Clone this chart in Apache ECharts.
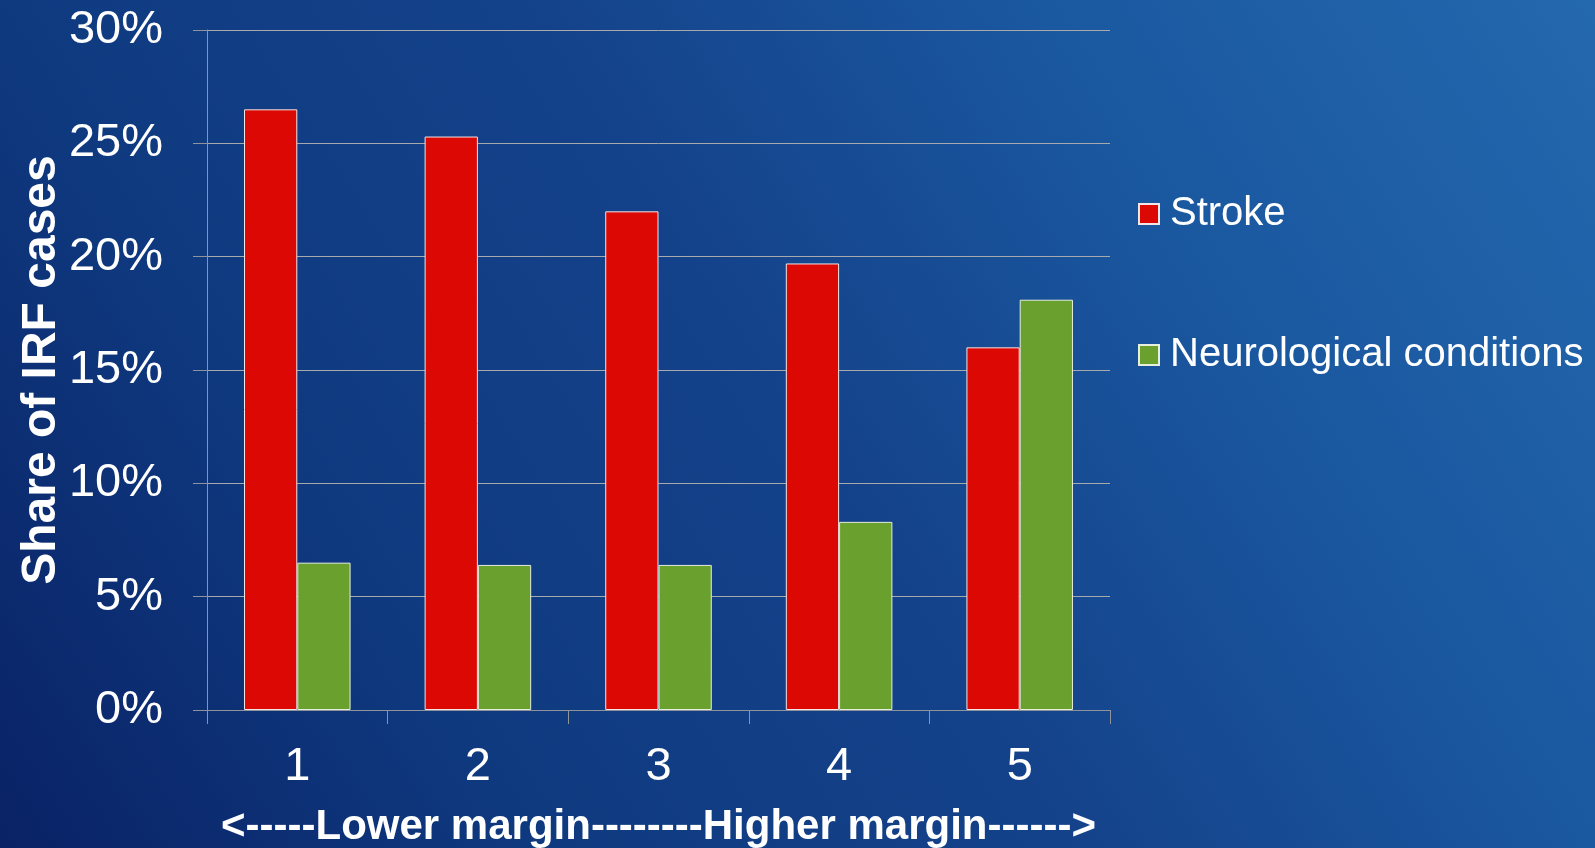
<!DOCTYPE html>
<html>
<head>
<meta charset="utf-8">
<script src="https://cdn.jsdelivr.net/npm/echarts@6/dist/echarts.min.js"></script>
<style>
  html, body { margin: 0; padding: 0; }
  #chart {
    width: 1595px;
    height: 848px;
    background: linear-gradient(57deg, #0a2266 0%, #0f3a80 26%, #14428a 50%, #1a58a0 74%, #2468ae 100%);
  }
</style>
</head>
<body>
<div id="chart"></div>
<script>
// Datos
const categories = ['1', '2', '3', '4', '5'];
const strokeShare = [26.5, 25.3, 22.0, 19.7, 16.0];
const neuroShare = [6.5, 6.4, 6.4, 8.3, 18.1];
const seriesNames = ['Stroke', 'Neurological conditions'];

const font = 'Arial, "Liberation Sans", sans-serif';
const gridColor = '#a7a9ad';

const chart = echarts.init(document.getElementById('chart'));
chart.setOption({
    backgroundColor: 'transparent',
    textStyle: { fontFamily: font, color: '#ffffff' },
    grid: { left: 207, right: 485, top: 30, bottom: 138, outerBoundsMode: 'none' },
    legend: {
        orient: 'vertical',
        left: 1133,
        top: 187,
        itemWidth: 20,
        itemHeight: 20,
        itemGap: 97,
        icon: 'rect',
        textStyle: { color: '#ffffff', fontSize: 40, fontFamily: font, lineHeight: 44, padding: [0, 0, 0, 6] },
        data: seriesNames
    },
    xAxis: {
        type: 'category',
        data: categories,
        name: '<-----Lower margin--------Higher margin------>',
        nameLocation: 'middle',
        nameGap: 96,
        nameMoveOverlap: false,
        nameTextStyle: { color: '#ffffff', fontSize: 42, fontWeight: 'bold', fontFamily: font },
        axisLine: { lineStyle: { color: '#8f949c', width: 1 } },
        axisTick: { show: true, length: 14, lineStyle: { color: '#8f949c' } },
        axisLabel: { color: '#ffffff', fontSize: 47, margin: 34, fontFamily: font }
    },
    yAxis: {
        type: 'value',
        min: 0,
        max: 30,
        interval: 5,
        name: 'Share of IRF cases',
        nameLocation: 'middle',
        nameGap: 141,
        nameMoveOverlap: false,
        nameTextStyle: { color: '#ffffff', fontSize: 48, fontWeight: 'bold', fontFamily: font },
        axisLine: { show: true, lineStyle: { color: '#8f949c', width: 1 } },
        axisTick: { show: true, length: 14, lineStyle: { color: '#8f949c' } },
        axisLabel: { color: '#ffffff', fontSize: 47, margin: 44, fontFamily: font, formatter: '{value}%' },
        splitLine: { lineStyle: { color: gridColor, width: 1 } }
    },
    series: [
        {
            name: seriesNames[0],
            type: 'bar',
            data: strokeShare,
            barGap: '0%',
            barCategoryGap: '41%',
            itemStyle: { color: '#dc0804', borderColor: '#f2e6e6', borderWidth: 1 }
        },
        {
            name: seriesNames[1],
            type: 'bar',
            data: neuroShare,
            itemStyle: { color: '#6aa02e', borderColor: '#e6eedc', borderWidth: 1 }
        }
    ]
});
</script>
</body>
</html>
